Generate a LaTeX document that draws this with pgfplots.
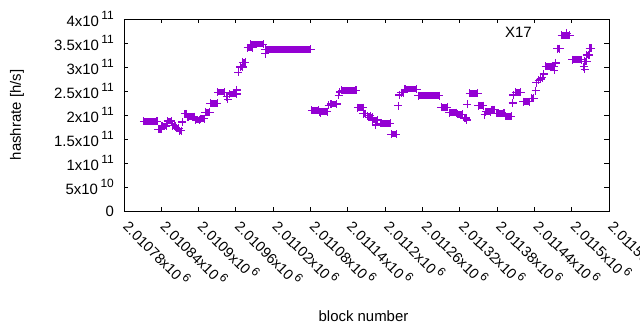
\documentclass[border=0pt]{standalone}
\usepackage{pgfplots}
\usepackage{pgfplotstable}
\pgfplotsset{compat=1.18}
\usepackage{fontspec}
\setmainfont{Liberation Sans}
\definecolor{gviolet}{RGB}{148,0,211}
\newcommand\gs[1]{\,\raisebox{0.42em}{\fontsize{12}{12}\selectfont #1}}

\pgfplotstableread{
x y
2010812 1.869e11
2010833 1.869e11
2010833 nan
2010835 1.698e11
2010840 1.698e11
2010840 nan
2010841 1.771e11
2010848 1.771e11
2010848 nan
2010850 1.875e11
2010856 1.875e11
2010856 nan
2010858 1.775e11
2010862 1.775e11
2010862 nan
2010864 1.723e11
2010868 1.723e11
2010868 nan
2010869 1.671e11
2010872 1.671e11
2010872 nan
2010878 2.025e11
2010881 2.025e11
2010881 nan
2010883 1.965e11
2010893 1.965e11
2010893 nan
2010895 1.896e11
2010901 1.896e11
2010901 nan
2010903 1.923e11
2010909 1.923e11
2010909 nan
2010911 2.054e11
2010918 2.054e11
2010918 nan
2010919 2.240e11
2010930 2.240e11
2010930 nan
2010931 2.475e11
2010942 2.475e11
2010942 nan
2010950 2.437e11
2010961 2.437e11
2010961 nan
2010967 3.000e11
2010971 3.000e11
2010971 nan
2010971 3.098e11
2010975 3.098e11
2010975 nan
2010979 3.400e11
2010987 3.400e11
2010987 nan
2010984 3.475e11
2011004 3.475e11
2011004 nan
2011007 3.369e11
2011080 3.369e11
2011080 nan
2011082 2.098e11
2011093 2.098e11
2011093 nan
2011094 2.069e11
2011107 2.069e11
2011107 nan
2011113 2.229e11
2011122 2.229e11
2011122 nan
2011130 2.515e11
2011153 2.515e11
2011153 nan
2011156 2.156e11
2011165 2.156e11
2011165 nan
2011165 2.031e11
2011169 2.031e11
2011169 nan
2011171 1.983e11
2011176 1.983e11
2011176 nan
2011174 1.948e11
2011180 1.948e11
2011180 nan
2011180 1.896e11
2011188 1.896e11
2011188 nan
2011192 1.827e11
2011208 1.827e11
2011208 nan
2011210 1.600e11
2011218 1.600e11
2011218 nan
2011226 2.463e11
2011230 2.463e11
2011230 nan
2011232 2.537e11
2011251 2.537e11
2011251 nan
2011253 2.404e11
2011287 2.404e11
2011287 nan
2011290 2.158e11
2011300 2.158e11
2011300 nan
2011303 2.050e11
2011315 2.050e11
2011315 nan
2011316 2.012e11
2011325 2.012e11
2011325 nan
2011327 1.937e11
2011330 1.937e11
2011330 nan
2011336 2.452e11
2011349 2.452e11
2011349 nan
2011350 2.196e11
2011358 2.196e11
2011358 nan
2011362 2.069e11
2011370 2.069e11
2011370 nan
2011372 2.110e11
2011376 2.110e11
2011376 nan
2011379 2.035e11
2011391 2.035e11
2011391 nan
2011394 1.969e11
2011403 1.969e11
2011403 nan
2011410 2.469e11
2011418 2.469e11
2011418 nan
2011422 2.277e11
2011432 2.277e11
2011432 nan
2011435 2.348e11
2011439 2.348e11
2011439 nan
2011458 3.015e11
2011472 3.015e11
2011472 nan
2011477 3.383e11
2011481 3.383e11
2011481 nan
2011484 3.660e11
2011497 3.660e11
2011497 nan
2011501 3.156e11
2011516 3.156e11
2011516 nan
2011520 3.115e11
2011524 3.115e11
2011524 nan
2011524 3.250e11
2011528 3.250e11
2011528 nan
2011529 3.390e11
2011531 3.390e11
}\runs

\pgfplotstableread{
x y
2010874 1.854e11
2010945 2.381e11
2010947 2.323e11
2010961 2.521e11
2010964 2.890e11
2011007 3.281e11
2011096 2.042e11
2011109 2.198e11
2011125 2.410e11
2011127 2.479e11
2011185 1.792e11
2011221 2.192e11
2011223 2.417e11
2011331 1.896e11
2011332 2.225e11
2011360 2.010e11
2011405 2.250e11
2011406 2.417e11
2011442 2.506e11
2011443 2.677e11
2011447 2.719e11
2011450 2.750e11
2011453 2.781e11
2011455 2.854e11
2011472 2.931e11
2011474 3.083e11
2011492 3.698e11
2011519 3.010e11
2011521 2.948e11
}\singles

\begin{document}
\fontsize{15}{17}\selectfont
\begin{tikzpicture}
\begin{axis}[
  name=ax,
  width=485bp, height=192bp, scale only axis,
  x coord trafo/.code={\edef\pgfmathresult{\the\numexpr #1-2010000\relax}},
  xmin=2010780, xmax=2011560, ymin=0, ymax=4e11,
  xtick={2010780,2010840,2010900,2010960,2011020,2011080,2011140,2011200,2011260,2011320,2011380,2011440,2011500,2011560},
  xticklabels={2.01078x10\gs{6},2.01084x10\gs{6},2.0109x10\gs{6},2.01096x10\gs{6},2.01102x10\gs{6},2.01108x10\gs{6},2.01114x10\gs{6},2.0112x10\gs{6},2.01126x10\gs{6},2.01132x10\gs{6},2.01138x10\gs{6},2.01144x10\gs{6},2.0115x10\gs{6},2.01156x10\gs{6}},
  ytick={0,5e10,1e11,1.5e11,2e11,2.5e11,3e11,3.5e11,4e11},
  yticklabels={0,5x10\gs{10},1x10\gs{11},1.5x10\gs{11},2x10\gs{11},2.5x10\gs{11},3x10\gs{11},3.5x10\gs{11},4x10\gs{11}},
  scaled ticks=false,
  tick align=inside, major tick length=4.5bp,
  axis line style={line width=0.9bp},
  every tick/.style={black, line width=0.9bp},
  tick label style={font=\fontsize{15}{17}\selectfont},
  yticklabel style={xshift=-5bp},
  xticklabel style={rotate=-45, anchor=north west, xshift=5.5bp, yshift=6.5bp, font=\fontsize{14.5}{16}\selectfont},
  xlabel={block number},
  ylabel={hashrate [h/s]},
  every axis x label/.style={at={([xshift=-3bp,yshift=-105bp]axis description cs:0.5,0)}, anchor=center, font=\fontsize{15}{17}\selectfont},
  every axis y label/.style={at={([xshift=-107bp]axis description cs:0,0.5)}, anchor=center, rotate=90, font=\fontsize{15}{17}\selectfont},
  clip=false,
]
\addplot[gviolet, line width=6.5bp, mark=+, mark size=4bp, mark options={line width=1.2bp}, unbounded coords=jump] table[x=x,y=y] {\runs};
\addplot[gviolet, only marks, mark=+, mark size=4bp, mark options={line width=1.2bp}] table[x=x,y=y] {\singles};
\node[anchor=east, inner sep=0pt, font=\fontsize{15}{17}\selectfont] at (rel axis cs:0.841,0.932) {X17};
\end{axis}
\pgfresetboundingbox
\path[use as bounding box] ([shift={(-124bp,-119bp)}]ax.south west) rectangle ([shift={(516bp,211bp)}]ax.south west);
\end{tikzpicture}
\end{document}
